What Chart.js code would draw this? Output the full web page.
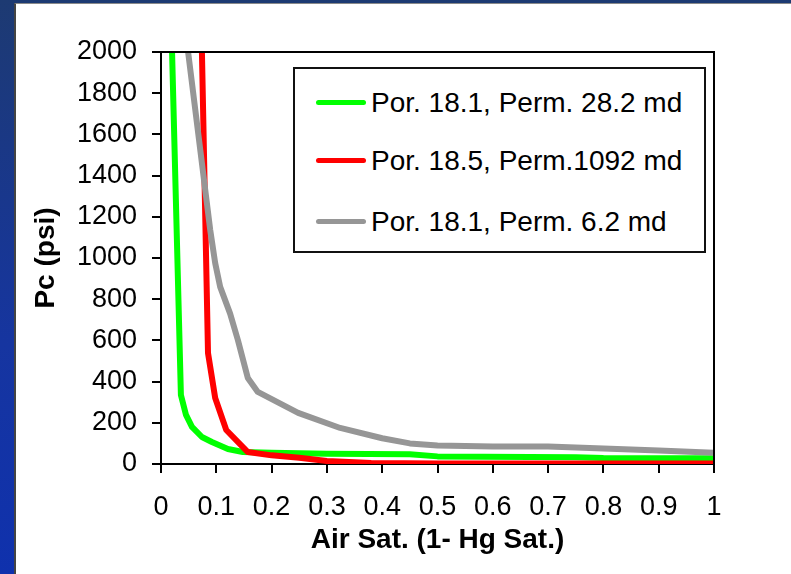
<!DOCTYPE html>
<html>
<head>
<meta charset="utf-8">
<script src="https://cdn.jsdelivr.net/npm/chart.js@4.4.1/dist/chart.umd.min.js"></script>
<style>
    html, body {
        margin: 0;
        padding: 0;
        width: 791px;
        height: 574px;
        overflow: hidden;
        background: linear-gradient(to bottom, #1d3a72 0%, #1635a0 60%, #0f31ad 100%);
        font-family: "Liberation Sans", Arial, sans-serif;
    }
    #panel {
        position: absolute;
        left: 14px;
        top: 3px;
        width: 800px;
        height: 600px;
        background: #ffffff;
        border-left: 2px solid #444444;
        border-top: 1px solid #8a8a8a;
    }
    #pc_chart {
        position: absolute;
        left: 0;
        top: 0;
    }
    #legend {
        position: absolute;
        left: 293px;
        top: 67px;
        width: 409px;
        height: 182px;
        background: #ffffff;
        border: 2px solid #111111;
    }
    .legend_row {
        position: absolute;
        left: 21px;
        height: 30px;
        line-height: 30px;
        font-size: 28px;
        color: #000000;
        white-space: nowrap;
    }
    .legend_line {
        display: inline-block;
        width: 50px;
        height: 5px;
        border-radius: 3px;
        vertical-align: middle;
        margin-right: 5px;
        position: relative;
        top: -2px;
    }
</style>
</head>
<body>
<div id="panel"></div>
<canvas id="pc_chart" width="791" height="574"></canvas>
<div id="legend"></div>

<script>
// tick labels
var xTicks = [0, 0.1, 0.2, 0.3, 0.4, 0.5, 0.6, 0.7, 0.8, 0.9, 1];
var yTicks = [0, 200, 400, 600, 800, 1000, 1200, 1400, 1600, 1800, 2000];

// series names
var seriesNames = [
    'Por. 18.1, Perm. 28.2 md',
    'Por. 18.5, Perm.1092 md',
    'Por. 18.1, Perm. 6.2 md'
];

// Por. 18.1, Perm. 28.2 md
var greenSat = [0.02, 0.036, 0.045, 0.056, 0.074, 0.092, 0.121, 0.148, 0.2, 0.3, 0.45, 0.5, 0.75, 0.8, 1.0];
var greenPc = [2000, 335, 240, 180, 131, 107, 73, 58, 55, 50, 47, 37, 33, 29, 28];

// Por. 18.5, Perm.1092 md
var redSat = [0.074, 0.085, 0.098, 0.118, 0.157, 0.2, 0.25, 0.3, 0.38, 0.5, 0.7, 1.0];
var redPc = [2000, 539, 320, 165, 58, 42, 30, 15, 5, 3, 2, 2];

// Por. 18.1, Perm. 6.2 md
var graySat = [0.049, 0.089, 0.098, 0.107, 0.125, 0.139, 0.157, 0.175, 0.248, 0.324, 0.4, 0.45, 0.5, 0.6, 0.7, 0.8, 0.9, 1.0];
var grayPc = [2000, 1136, 975, 860, 730, 602, 417, 350, 248, 175, 125, 100, 90, 85, 85, 75, 65, 55];

var colors = ['#00ff00', '#ff0000', '#969696'];

function toPoints(xs, ys) {
    return xs.map((x, i) => ({ x: x, y: ys[i] }));
}

function makeSet(i, xs, ys) {
    return {
        label: seriesNames[i],
        data: toPoints(xs, ys),
        showLine: true,
        borderColor: colors[i],
        backgroundColor: colors[i],
        borderWidth: 6,
        pointRadius: 0,
        tension: 0,
        borderCapStyle: 'round',
        borderJoinStyle: 'round',
        order: 3 - i
    };
}

// box round the plot area (top and right edges)
var plotFrame = {
    id: 'plotFrame',
    afterDraw(chart) {
        var a = chart.chartArea;
        var ctx = chart.ctx;
        ctx.save();
        ctx.strokeStyle = '#000000';
        ctx.lineWidth = 2;
        ctx.beginPath();
        ctx.moveTo(a.left, a.top);
        ctx.lineTo(a.right, a.top);
        ctx.lineTo(a.right, a.bottom);
        ctx.stroke();
        ctx.restore();
    }
};

var tickFont = { family: '"Liberation Sans", Arial, sans-serif', size: 27 };
var titleFont = { family: '"Liberation Sans", Arial, sans-serif', size: 28, weight: 'bold' };

var config = {
    type: 'scatter',
    data: {
        datasets: [
            makeSet(0, greenSat, greenPc),
            makeSet(1, redSat, redPc),
            makeSet(2, graySat, grayPc)
        ]
    },
    options: {
        responsive: false,
        animation: false,
        layout: {
            padding: { left: 25, top: 52, right: 77, bottom: 13 }
        },
        plugins: {
            legend: { display: false },
            tooltip: { enabled: false }
        },
        scales: {
            x: {
                type: 'linear',
                min: 0,
                max: 1,
                afterBuildTicks: (scale) => { scale.ticks = xTicks.map(v => ({ value: v })); },
                afterFit: (scale) => { scale.height = 97; },
                ticks: {
                    color: '#000000',
                    font: tickFont,
                    padding: 18,
                    maxRotation: 0,
                    autoSkip: false,
                    callback: (v) => String(v)
                },
                grid: {
                    drawOnChartArea: false,
                    drawTicks: true,
                    tickLength: 9,
                    tickColor: '#000000',
                    lineWidth: 2
                },
                border: { color: '#000000', width: 2 },
                title: {
                    display: true,
                    text: 'Air Sat. (1- Hg Sat.)',
                    color: '#000000',
                    font: titleFont,
                    padding: { top: 4, bottom: 4 }
                }
            },
            y: {
                type: 'linear',
                min: 0,
                max: 2000,
                afterBuildTicks: (scale) => { scale.ticks = yTicks.map(v => ({ value: v })); },
                afterFit: (scale) => { scale.width = 136; },
                ticks: {
                    color: '#000000',
                    font: tickFont,
                    padding: 15,
                    autoSkip: false,
                    callback: (v) => String(v)
                },
                grid: {
                    drawOnChartArea: false,
                    drawTicks: true,
                    tickLength: 9,
                    tickColor: '#000000',
                    lineWidth: 2
                },
                border: { color: '#000000', width: 2 },
                title: {
                    display: true,
                    text: 'Pc (psi)',
                    color: '#000000',
                    font: titleFont,
                    padding: { top: 4, bottom: 4 }
                }
            }
        }
    },
    plugins: [plotFrame]
};

var ctx = document.getElementById('pc_chart').getContext('2d');
window.pc_chart = new Chart(ctx, config);

// legend built from the chart's own datasets
var rowTops = [19, 77, 138];
pc_chart.data.datasets.forEach((ds, i) => {
    var row = document.createElement('div');
    row.className = 'legend_row';
    row.style.top = rowTops[i] + 'px';
    var sample = document.createElement('span');
    sample.className = 'legend_line';
    sample.style.background = ds.borderColor;
    row.appendChild(sample);
    row.appendChild(document.createTextNode(ds.label));
    legend.appendChild(row);
});
</script>
</body>
</html>
